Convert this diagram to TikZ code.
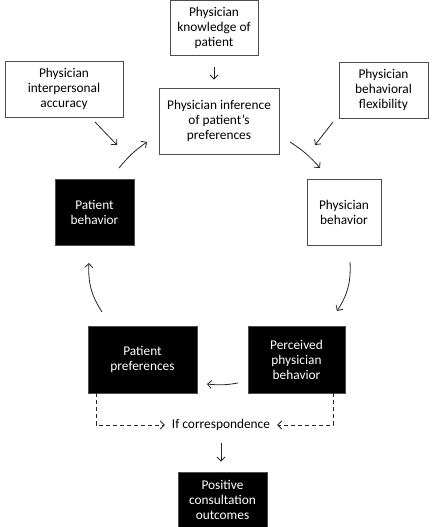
\documentclass[tikz,border=0pt]{standalone}
\usepackage{fontspec}
\setmainfont{Carlito}
\usetikzlibrary{arrows.meta}
\begin{document}
\begin{tikzpicture}[x=1bp,y=-1bp,
  wbox/.style={draw=black!70,line width=0.9bp,fill=white,align=center,inner sep=0pt,font=\fontsize{13.4}{15}\selectfont},
  bbox/.style={wbox,fill=black,text=white},
  arr/.style={-{Straight Barb[length=4bp,width=8bp]},line width=0.8bp,black!85},
  dasharr/.style={arr,dash pattern=on 4bp off 3bp}]
\useasboundingbox (0,0) rectangle (432,527);
\node[wbox,minimum width=88bp,minimum height=55bp](knowledge) at (214,28){Physician\\knowledge of\\patient};
\node[wbox,minimum width=118bp,minimum height=56bp](accuracy) at (64,89){Physician\\interpersonal\\accuracy};
\node[wbox,minimum width=120bp,minimum height=66bp](inference) at (219,121){Physician inference\\of patient’s\\preferences};
\node[wbox,minimum width=89bp,minimum height=56bp](flexibility) at (383.5,90){Physician\\behavioral\\flexibility};
\node[bbox,minimum width=79bp,minimum height=66bp](patbeh) at (94.5,212){Patient\\behavior};
\node[wbox,minimum width=74bp,minimum height=66bp](phybeh) at (344,212){Physician\\behavior};
\node[bbox,minimum width=109bp,minimum height=67bp](patpref) at (142.5,359.5){Patient\\preferences};
\node[bbox,minimum width=97bp,minimum height=67bp](perceived) at (296.5,359.5){Perceived\\physician\\behavior};
\node[font=\fontsize{13.4}{15}\selectfont,inner sep=2bp](corr) at (221,425){If correspondence};
\node[bbox,minimum width=89bp,minimum height=56bp](positive) at (222.5,500){Positive\\consultation\\outcomes};
\coordinate(a1) at (95,122);
\coordinate(a2) at (117,145);
\coordinate(b1) at (333,122);
\coordinate(b2) at (315,145);
\coordinate(c1) at (119,168);
\coordinate(c2) at (147,142);
\coordinate(d1) at (290,142);
\coordinate(d2) at (320,168);
\coordinate(e1) at (350,262);
\coordinate(e2) at (337,311);
\coordinate(f1) at (102,312);
\coordinate(f2) at (89,263);
\coordinate(g1) at (238,383);
\coordinate(g2) at (207,384);
\draw[arr,shorten <=11bp,shorten >=8bp](knowledge.south) -- (knowledge.south |- inference.north);
\draw[arr](a1) -- (a2);
\draw[arr](b1) -- (b2);
\draw[arr](c1) to[bend left=8] (c2);
\draw[arr](d1) to[bend left=8] (d2);
\draw[arr](e1) to[bend left=18] (e2);
\draw[arr](f1) to[bend left=18] (f2);
\draw[arr](g1) to[bend left=8] (g2);
\draw[dasharr,shorten >=5bp]([xshift=-46.5bp]patpref.south) |- (corr.west);
\draw[dasharr,shorten >=5bp]([xshift=36.5bp]perceived.south) |- (corr.east);
\draw[arr,shorten <=10bp,shorten >=10bp](corr.south) -- (corr.south |- positive.north);
\end{tikzpicture}
\end{document}
